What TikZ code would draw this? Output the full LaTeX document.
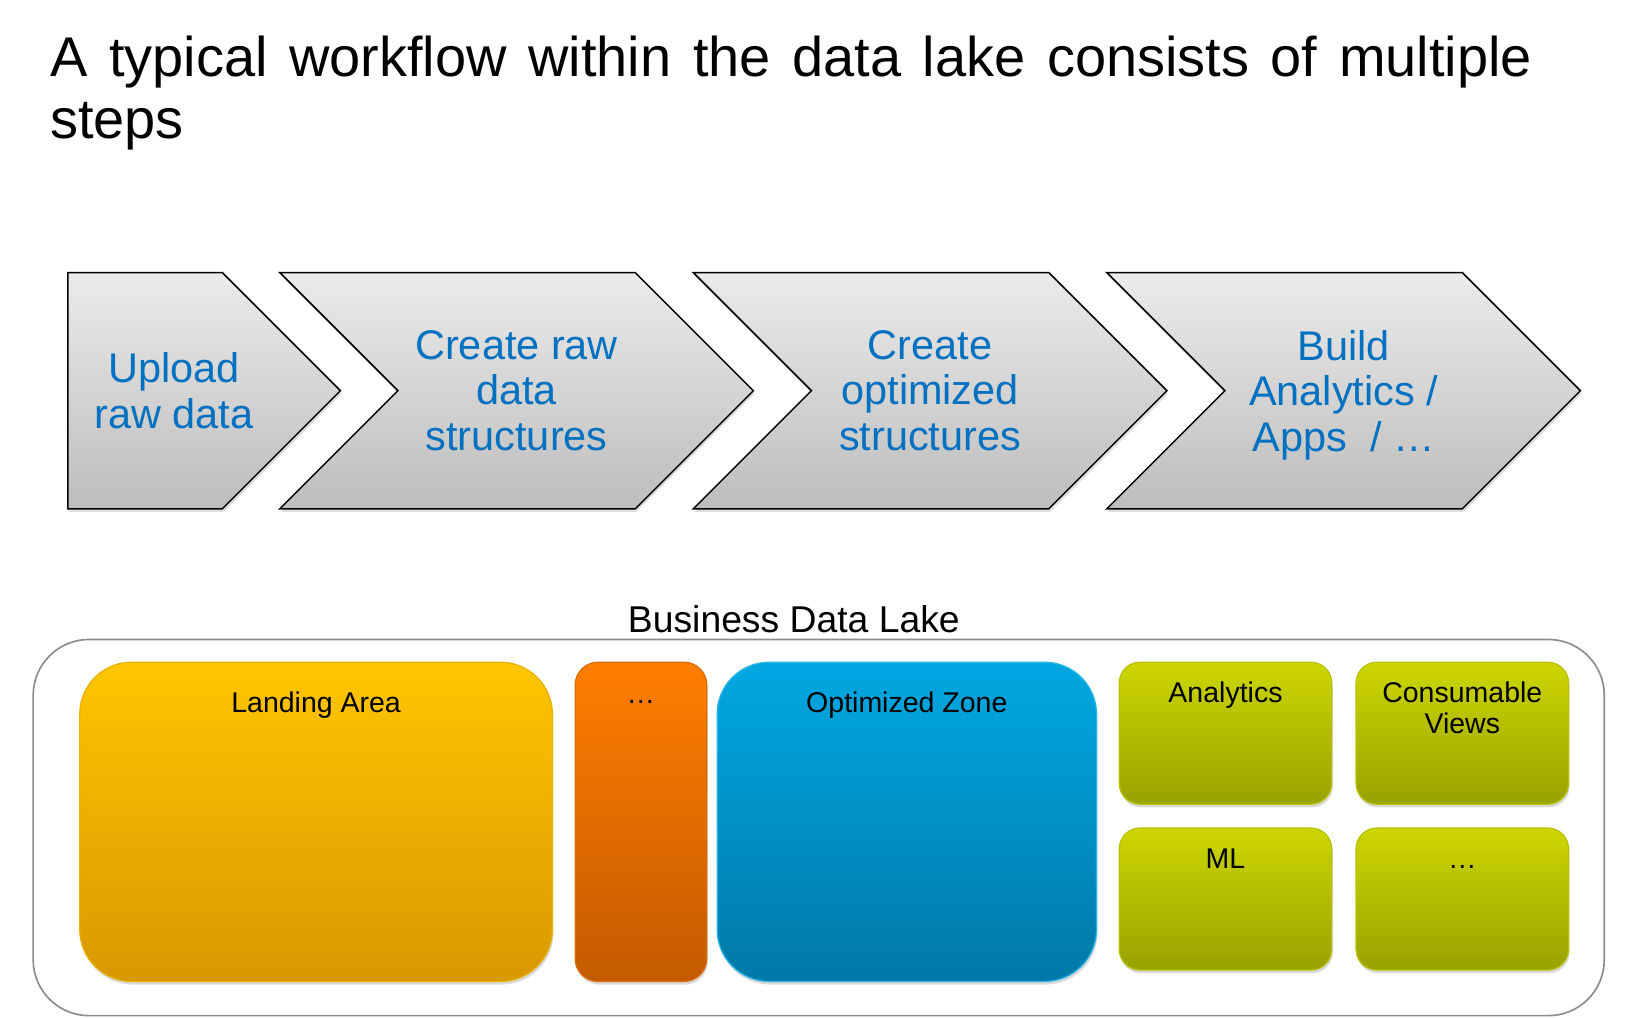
\documentclass[tikz,border=0pt]{standalone}
\usepackage{fontspec}
\setmainfont{Liberation Sans}
\usetikzlibrary{shapes.symbols,shadows}

\definecolor{stepblue}{HTML}{0070C0}
\definecolor{steptop}{HTML}{EBEBEB}
\definecolor{stepbot}{HTML}{BDBDBD}
\definecolor{landtop}{HTML}{FFC600}
\definecolor{landbot}{HTML}{D99700}
\definecolor{orgtop}{HTML}{FF7E00}
\definecolor{orgbot}{HTML}{C45A00}
\definecolor{opttop}{HTML}{00A8E2}
\definecolor{optbot}{HTML}{0079A8}
\definecolor{grntop}{HTML}{CDD600}
\definecolor{grnbot}{HTML}{98A200}

\begin{document}
\begin{tikzpicture}[x=0.5pt, y=-0.5pt,
  stepbox/.style={shape=signal, signal to=east, signal from=west, draw=black, line width=0.7pt,
    top color=steptop, bottom color=stepbot, minimum width=228.5pt, minimum height=114pt,
    inner sep=0pt, font=\fontsize{20}{22}\selectfont, text=stepblue, align=center,
    drop shadow={opacity=0.25, shadow xshift=0.5pt, shadow yshift=-1.5pt}},
  zone/.style={draw, line width=0.6pt, rounded corners=25pt, minimum height=154pt, inner sep=0pt,
    drop shadow={opacity=0.3, shadow xshift=0.5pt, shadow yshift=-1.5pt}},
  tile/.style={draw=grntop!90!black, line width=0.6pt, top color=grntop, bottom color=grnbot,
    rounded corners=10pt, minimum width=102.5pt, minimum height=68.5pt, inner sep=0pt,
    drop shadow={opacity=0.3, shadow xshift=0.5pt, shadow yshift=-1.5pt}},
  lbl/.style={font=\fontsize{13.75}{15}\selectfont, align=center, inner sep=0pt}]

\useasboundingbox (0,0) rectangle (1568,982);

% title
\node[anchor=north west, text width=715pt, align=justify, inner sep=0pt,
  font=\fontsize{27}{30}\selectfont] (title) at (48,34)
  {A typical workflow within the data lake consists of multiple steps};

% workflow steps
\node[stepbox, signal from=nowhere, minimum width=131.5pt] (upload) at (140,377) {};
\node[font=\fontsize{20}{22}\selectfont, text=stepblue, align=center, inner sep=0pt] (uploadtxt)
  at ([xshift=14pt]upload.center) {Upload\\raw data};
\node[stepbox] (rawstruct) at (498.5,377) {Create raw\\data\\structures};
\node[stepbox] (optstruct) at (897.5,377) {Create\\optimized\\structures};
\node[stepbox] (build) at (1296.5,377) {Build\\Analytics /\\\smash{Apps\ \ / …}};

% business data lake
\node[draw=black!45, line width=0.8pt, rounded corners=27pt, minimum width=758pt, minimum height=181.5pt,
  inner sep=0pt] (lake) at (790,798.5) {};
\node[font=\fontsize{18}{20}\selectfont, inner sep=0pt] (laketxt) at (766,597) {Business Data Lake};

\node[zone, draw=landtop!90!black, top color=landtop, bottom color=landbot, minimum width=228pt] (land) at (305,793) {};
\node[zone, draw=orgtop!85!black, top color=orgtop, bottom color=orgbot, minimum width=63.5pt,
  rounded corners=11pt] (more) at (618.5,793) {};
\node[zone, draw=opttop!85!white, top color=opttop, bottom color=optbot, minimum width=183pt] (opt) at (875,793) {};

\node[tile] (analytics) at (1182.5,707.5) {};
\node[tile] (views) at (1411,707.5) {};
\node[tile] (ml) at (1182.5,867.5) {};
\node[tile] (other) at (1411,867.5) {};

\node[lbl] (landtxt) at ([yshift=-21pt]land.north) {Landing Area};
\node[lbl] (moretxt) at ([yshift=-19.5pt]more.north) {…};
\node[lbl] (opttxt) at ([yshift=-21pt]opt.north) {Optimized Zone};
\node[lbl] (analyticstxt) at ([yshift=-16pt]analytics.north) {Analytics};
\node[lbl] (viewstxt) at ([yshift=-22.5pt]views.north) {Consumable\\Views};
\node[lbl] (mltxt) at ([yshift=-15pt]ml.north) {ML};
\node[lbl] (othertxt) at ([yshift=-19pt]other.north) {…};
\end{tikzpicture}
\end{document}
